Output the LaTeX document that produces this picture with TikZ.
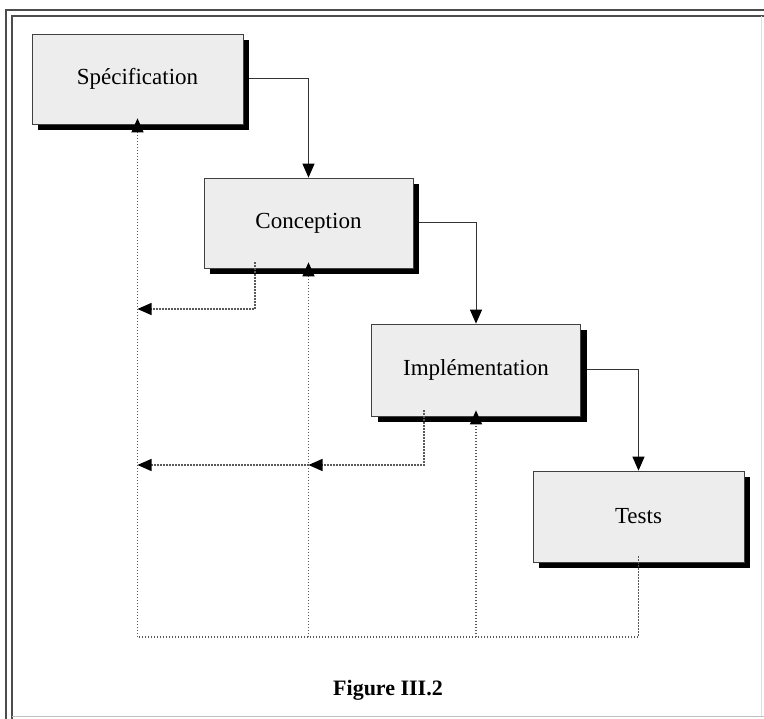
\documentclass[tikz,border=0pt]{standalone}
\usepackage{fontspec}
\setmainfont{Liberation Serif}
\usetikzlibrary{arrows.meta,shadows}
\begin{document}
\begin{tikzpicture}[x=1pt,y=-1pt,
  box/.style={draw=black!75,line width=0.7pt,fill=black!7,rectangle,inner sep=0pt,
    font=\fontsize{23}{27}\selectfont,
    drop shadow={shadow xshift=6pt,shadow yshift=-6pt,fill=black,opacity=1}},
  tip/.style={-{Triangle[length=14pt,width=12pt,black]}},
  flow/.style={draw=black!80,line width=1pt,tip},
  back/.style={draw=black!65,line width=1.3pt,dash pattern=on 1.3pt off 1.7pt},
  backarrow/.style={back,tip},
  frame/.style={draw=black!70,line width=1.8pt}]
\useasboundingbox (0,0) rectangle (764,719);
\fill[white] (0,0) rectangle (764,719);
% frame
\draw[frame] (6,719) -- (6,10) -- (764,10);
\draw[frame] (12,719) -- (12,16) -- (764,16);
\draw[black!25,line width=0.8pt] (12,716) -- (764,716);
\draw[black!12,line width=0.8pt] (761,16) -- (761,716);
% boxes
\node[box,minimum width=211pt,minimum height=90pt] (spec) at (137.5,79) {Spécification};
\node[box,minimum width=209pt,minimum height=90pt] (conc) at (308.5,223) {Conception};
\node[box,minimum width=209pt,minimum height=92pt] (impl) at (476,370) {Implémentation};
\node[box,minimum width=211pt,minimum height=91pt] (tests) at (638.5,516.5) {Tests};
% coordinates for the feedback paths
\coordinate (bl) at (137.5,637);
\coordinate (bc) at (308.5,637);
\coordinate (bi) at (476,637);
\coordinate (bt) at (638.5,637);
\coordinate (ca) at (255,309);
\coordinate (cb) at (137.5,309);
\coordinate (ia) at (424,465);
\coordinate (ib) at (308.5,465);
\coordinate (ic) at (137.5,465);
% forward arrows
\draw[flow] ([xshift=6pt]spec.east) -| (conc.north);
\draw[flow] ([xshift=6pt]conc.east) -| (impl.north);
\draw[flow] ([xshift=6pt]impl.east) -| (tests.north);
% feedback dotted lines
\draw[back] ([yshift=6pt]tests.south) -- (bt) -- (bl);
\draw[backarrow] (bl) -- ([yshift=6pt]spec.south);
\draw[backarrow] (bc) -- ([yshift=6pt]conc.south);
\draw[backarrow] (bi) -- ([yshift=6pt]impl.south);
\draw[backarrow] ([yshift=6pt]conc.south -| ca) -- (ca) -- (cb);
\draw[backarrow] ([yshift=6pt]impl.south -| ia) -- (ia) -- (ib);
\draw[backarrow] (ib) -- (ic);
% caption
\node[font=\fontsize{22}{26}\selectfont\bfseries] (cap) at (388,690) {Figure III.2};
\end{tikzpicture}
\end{document}
